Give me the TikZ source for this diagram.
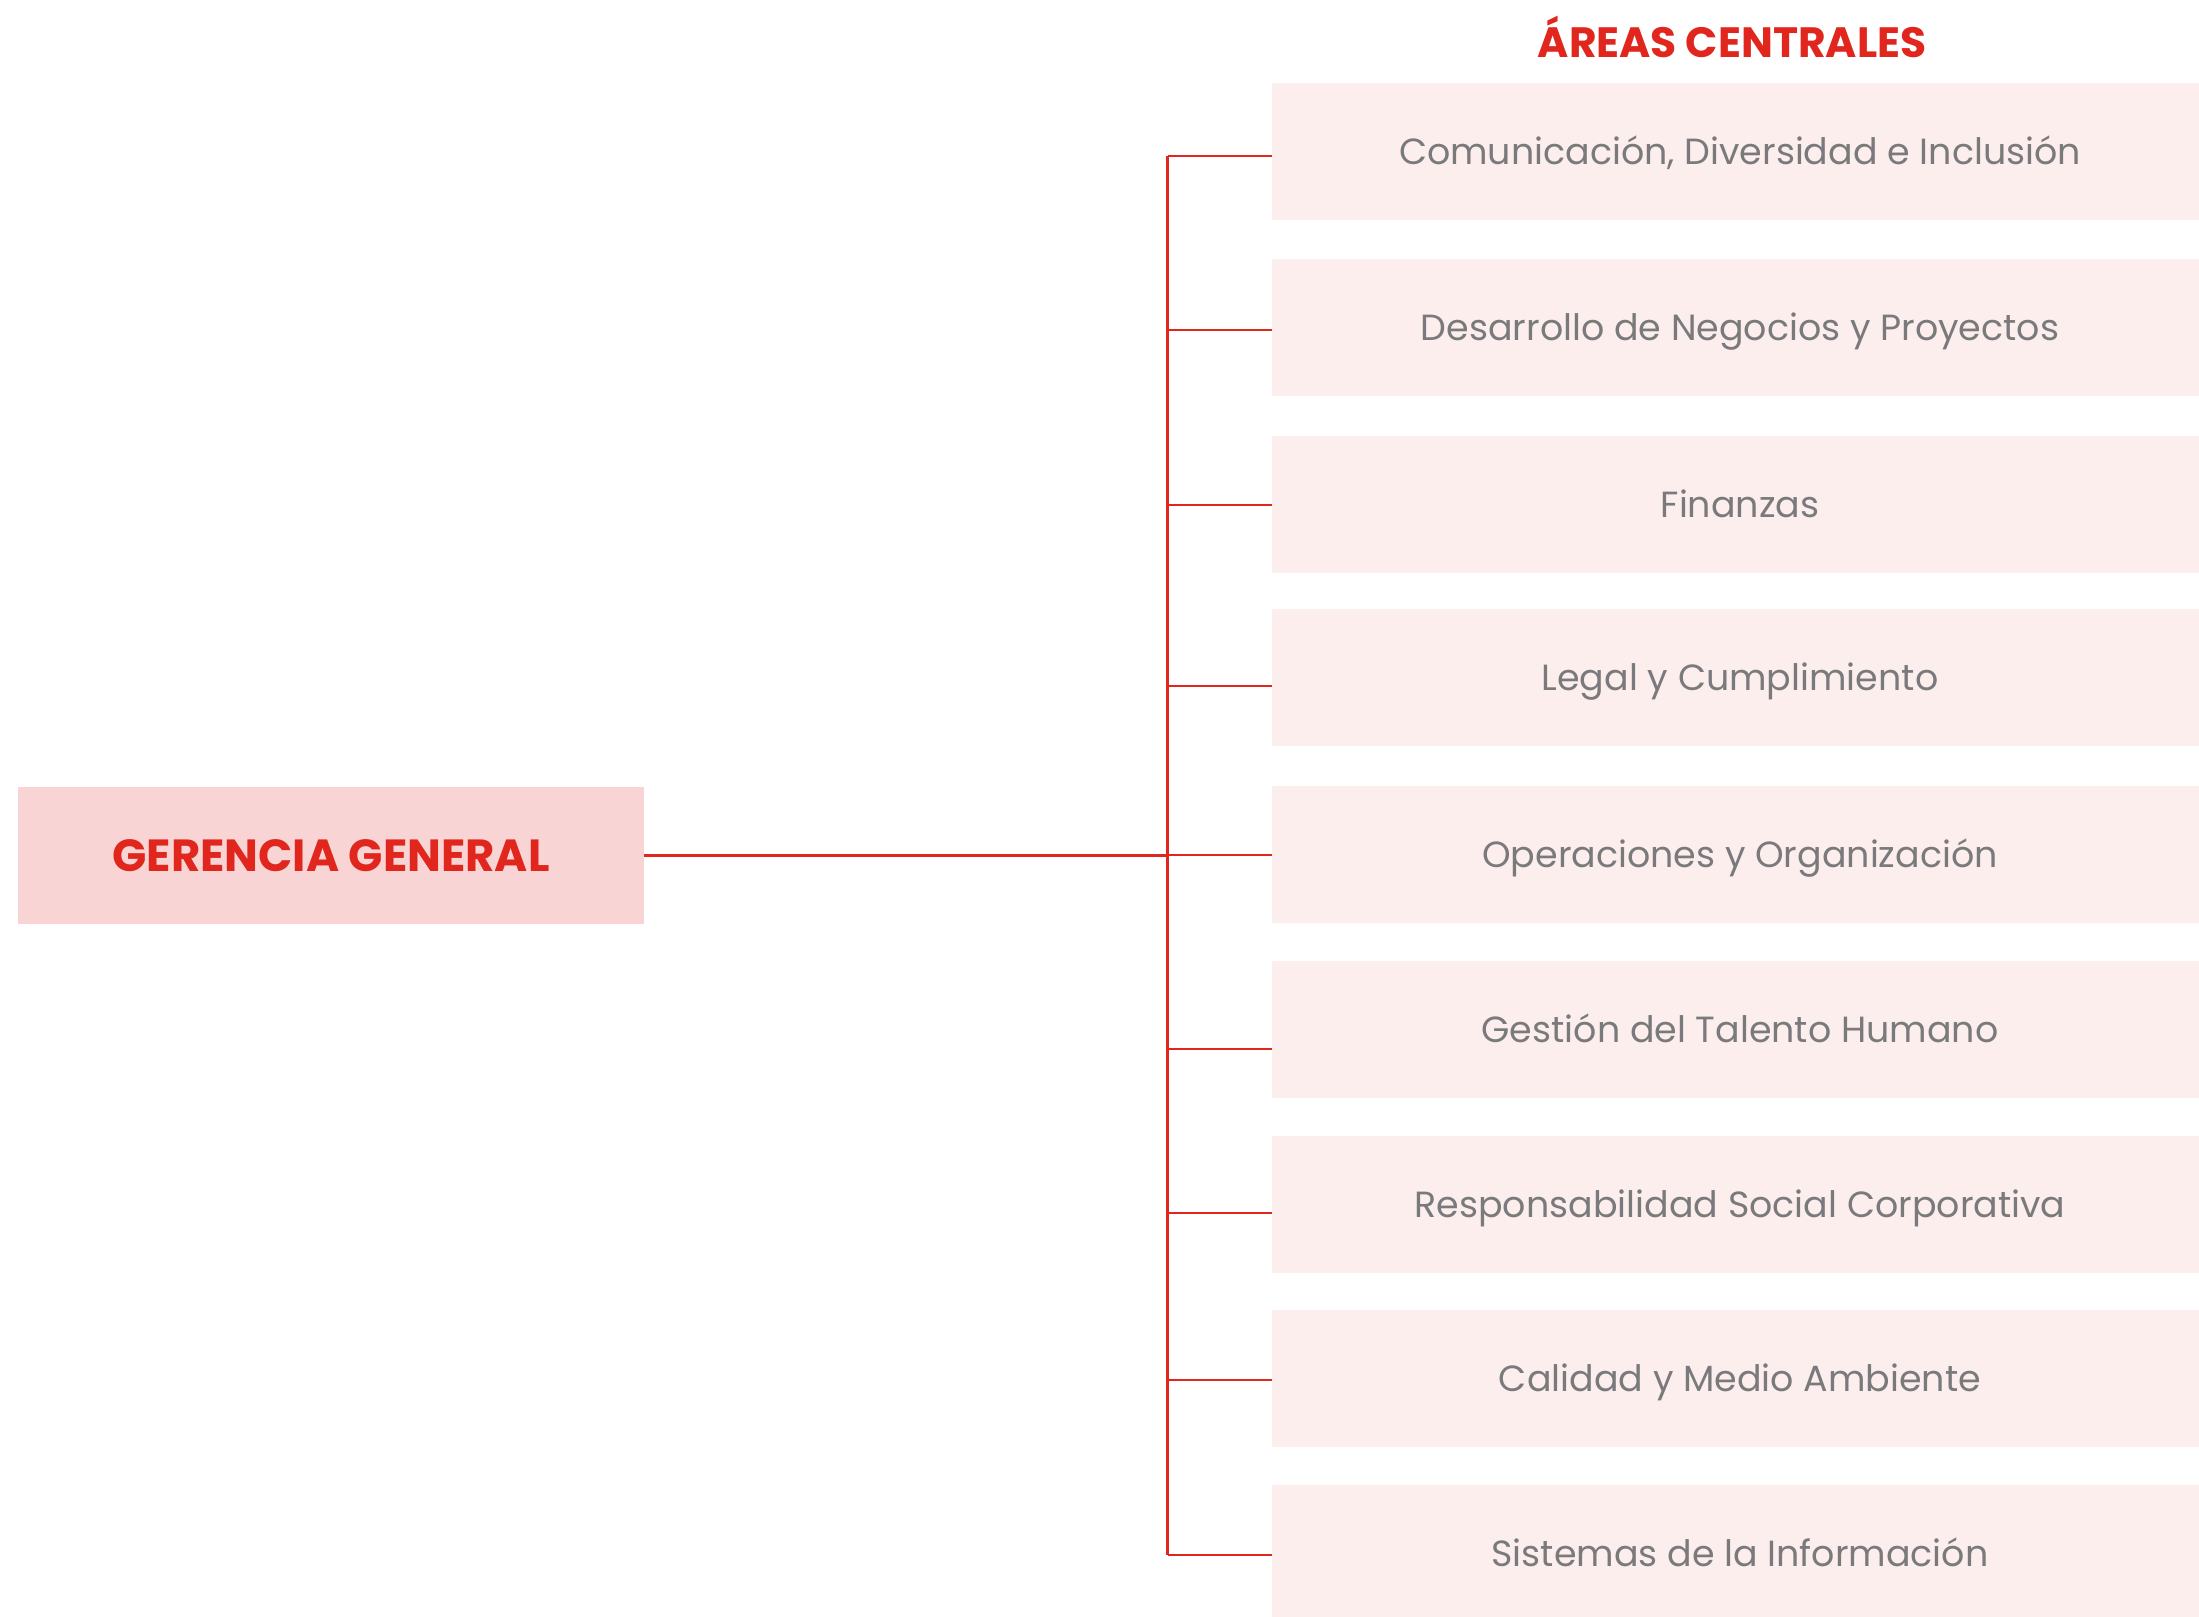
\documentclass[tikz,border=0pt]{standalone}
\usepackage{fontspec}
\setmainfont{Poppins}
\usetikzlibrary{positioning}
\definecolor{redline}{HTML}{E0261D}
\definecolor{ggfill}{HTML}{F8D4D4}
\definecolor{areafill}{HTML}{FDEEEE}
\definecolor{areatext}{HTML}{7A7A7C}
\tikzset{
  ggbox/.style={fill=ggfill,minimum width=313pt,minimum height=68.5pt,inner sep=0pt,
    text=redline,font=\fontsize{22.5}{26}\selectfont\bfseries},
  areabox/.style={fill=areafill,minimum width=468pt,minimum height=68.5pt,inner sep=0pt,
    text height=12.8pt,text depth=0pt,text=areatext,font=\fontsize{18.2}{21}\selectfont},
  titletext/.style={text=redline,inner sep=0pt,font=\fontsize{21.2}{24}\selectfont\bfseries},
  linkline/.style={draw=redline,line width=1.2pt}
}
\begin{document}
\begin{tikzpicture}[x=0.5pt,y=-0.5pt,line cap=butt]
			\useasboundingbox (0,0) rectangle (2199,1616);
			\clip (0,0) rectangle (2199,1616);
			\fill[white] (0,0) rectangle (2199,1616);
			\node[titletext] (title) at (1732,37) {ÁREAS CENTRALES};
			\node[ggbox] (gg) at (331,855.5) {GERENCIA GENERAL};
			\coordinate (trunktop) at (1167.5,156);
			\coordinate (trunkbot) at (1167.5,1555);
			\draw[linkline] (trunktop) -- (trunkbot);
			\foreach \i/\yc/\yb/\txt in {
				1/151.5/156/{Comunicación, Diversidad e Inclusión},
				2/327.5/330/{Desarrollo de Negocios y Proyectos},
				3/504.5/505/{Finanzas},
				4/677.5/686/{Legal y Cumplimiento},
				5/854.5/855/{Operaciones y Organización},
				6/1029.5/1049/{Gestión del Talento Humano},
				7/1204.5/1213/{Responsabilidad Social Corporativa},
				8/1378.5/1380/{Calidad y Medio Ambiente},
				9/1553.5/1555/{Sistemas de la Información}}
			{
				\node[areabox] (a\i) at (1740,\yc) {\txt};
				\coordinate (b\i) at (1167.5,\yb);
				\draw[linkline] (b\i) -- (b\i -| a\i.west);
			}
			\draw[linkline] (gg.east) -- (gg.east -| trunktop);
		\end{tikzpicture}
\end{document}
